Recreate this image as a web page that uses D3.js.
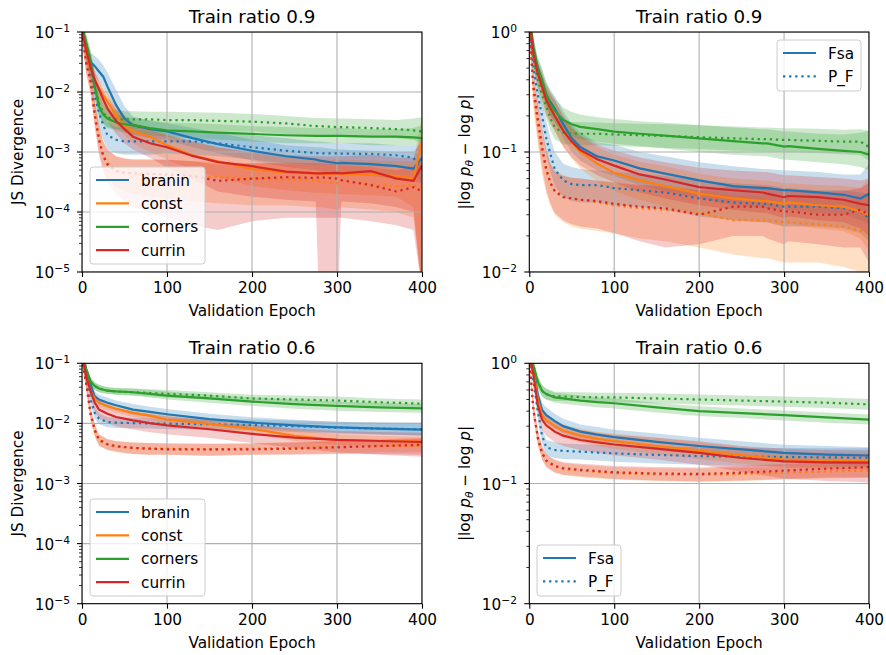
<!DOCTYPE html>
<html>
<head>
<meta charset="utf-8">
<script src="https://cdn.jsdelivr.net/npm/d3@7"></script>
<style>
  body { margin: 0; background: #fff; }
  svg { display: block; font-family: "DejaVu Sans", sans-serif; }
</style>
</head>
<body>
<svg id="chart" width="886" height="655"></svg>
<script>
const epochsTop = [0, 5, 10, 15, 20, 25, 30, 40, 50, 60, 80, 100, 130, 160, 200, 240, 275, 280, 300, 305, 340, 370, 390, 400];
const epochsBottom = [0, 5, 10, 15, 20, 30, 40, 60, 80, 100, 150, 200, 250, 300, 350, 400];

const datasets = ["branin", "const", "corners", "currin"];
const methods = ["Fsa", "P_F"];
const xTicks = [0, 100, 200, 300, 400];

// ---- JS divergence, train ratio 0.9 (rows: branin, const, corners, currin)
const js09Fsa = [
  [0.12, 0.05, 0.032, 0.027, 0.022, 0.018, 0.0123, 0.0061, 0.0036, 0.0028, 0.0024, 0.0022, 0.0017, 0.00135, 0.00105, 0.00085, 0.00075, 0.00072, 0.00065, 0.00066, 0.00063, 0.00058, 0.00053, 0.0008],
  [0.12, 0.045, 0.025, 0.016, 0.0115, 0.0088, 0.0069, 0.0041, 0.0028, 0.0022, 0.0018, 0.0013, 0.00088, 0.0007, 0.00052, 0.00045, 0.00044, 0.00043, 0.00044, 0.00043, 0.00042, 0.0004, 0.00036, 0.0015],
  [0.13, 0.065, 0.034, 0.0123, 0.0058, 0.0042, 0.0036, 0.0031, 0.0029, 0.0028, 0.0025, 0.0023, 0.0022, 0.0021, 0.002, 0.0019, 0.00185, 0.00185, 0.00185, 0.00185, 0.0018, 0.0018, 0.00175, 0.0017],
  [0.11, 0.05, 0.026, 0.016, 0.011, 0.0075, 0.0053, 0.0033, 0.0024, 0.0018, 0.0014, 0.0012, 0.00086, 0.00068, 0.00058, 0.00047, 0.00044, 0.00044, 0.00045, 0.00044, 0.00048, 0.00036, 0.00033, 0.0006]
];
const js09FsaLo = [
  [0.09, 0.035, 0.023, 0.018, 0.015, 0.012, 0.0085, 0.0039, 0.0024, 0.0019, 0.0017, 0.0016, 0.0012, 0.00095, 0.00072, 0.00056, 0.0005, 0.00048, 0.00042, 0.00043, 0.0004, 0.00036, 0.00032, 0.0003],
  [0.09, 0.032, 0.017, 0.011, 0.008, 0.006, 0.0047, 0.0028, 0.0019, 0.0014, 0.001, 0.00075, 0.0005, 0.00038, 0.00027, 0.00023, 0.00021, 0.00021, 0.0002, 0.0002, 0.00019, 0.00018, 0.00012, 0.000005],
  [0.1, 0.045, 0.022, 0.008, 0.0039, 0.0029, 0.0025, 0.0023, 0.0021, 0.002, 0.0019, 0.0018, 0.0017, 0.0016, 0.0015, 0.0014, 0.0014, 0.0014, 0.0014, 0.0014, 0.0013, 0.0013, 0.0013, 0.0012],
  [0.08, 0.035, 0.017, 0.01, 0.007, 0.0048, 0.0033, 0.002, 0.0014, 0.0011, 0.0008, 0.00055, 0.00035, 0.00022, 0.00018, 0.00016, 0.00015, 0.000001, 0.000001, 0.00015, 0.00014, 0.00012, 0.0001, 0.000005]
];
const js09FsaHi = [
  [0.15, 0.07, 0.045, 0.04, 0.034, 0.028, 0.021, 0.011, 0.0058, 0.0039, 0.0033, 0.003, 0.0025, 0.0021, 0.0016, 0.0013, 0.0012, 0.0012, 0.0011, 0.0011, 0.00105, 0.001, 0.001, 0.0015],
  [0.15, 0.06, 0.035, 0.022, 0.016, 0.012, 0.0095, 0.006, 0.0042, 0.0032, 0.0025, 0.002, 0.0015, 0.0012, 0.00095, 0.0008, 0.00078, 0.00076, 0.00075, 0.00074, 0.00072, 0.0007, 0.0007, 0.004],
  [0.16, 0.09, 0.05, 0.02, 0.0085, 0.006, 0.005, 0.0042, 0.0039, 0.0037, 0.0034, 0.0031, 0.003, 0.0029, 0.0027, 0.0026, 0.0025, 0.0025, 0.0025, 0.0025, 0.0024, 0.0024, 0.0025, 0.0028],
  [0.14, 0.065, 0.035, 0.022, 0.015, 0.011, 0.0082, 0.0052, 0.0037, 0.0029, 0.0023, 0.0019, 0.0015, 0.0012, 0.001, 0.0009, 0.00085, 0.00085, 0.00085, 0.00085, 0.0009, 0.0008, 0.0008, 0.002]
];
const js09PF = [
  [0.1, 0.04, 0.02, 0.0085, 0.0045, 0.0028, 0.0019, 0.0016, 0.0015, 0.0015, 0.0015, 0.0015, 0.0015, 0.0014, 0.0012, 0.00105, 0.00096, 0.00095, 0.00095, 0.00094, 0.00093, 0.00088, 0.0008, 0.0005],
  [0.1, 0.03, 0.016, 0.0045, 0.0017, 0.0009, 0.00065, 0.0005, 0.00046, 0.00044, 0.00043, 0.00043, 0.0004, 0.00038, 0.00036, 0.00035, 0.00034, 0.00032, 0.0003, 0.00033, 0.00029, 0.00027, 0.00028, 0.00025],
  [0.13, 0.065, 0.034, 0.013, 0.0065, 0.0045, 0.0038, 0.0035, 0.0035, 0.0035, 0.0035, 0.0034, 0.0034, 0.0033, 0.0032, 0.003, 0.0027, 0.0027, 0.0026, 0.0026, 0.0025, 0.0024, 0.0023, 0.0022],
  [0.1, 0.03, 0.015, 0.0042, 0.0016, 0.00085, 0.00062, 0.00048, 0.00045, 0.00044, 0.00043, 0.00042, 0.0004, 0.00033, 0.00036, 0.00038, 0.00037, 0.00038, 0.00036, 0.00034, 0.00028, 0.00022, 0.00026, 0.00022]
];
const js09PFLo = [
  [0.08, 0.028, 0.013, 0.005, 0.0026, 0.0016, 0.0011, 0.00095, 0.0009, 0.0009, 0.0009, 0.00095, 0.0009, 0.00085, 0.00075, 0.00065, 0.0006, 0.0006, 0.0006, 0.0006, 0.00055, 0.00055, 0.0005, 0.0003],
  [0.07, 0.02, 0.01, 0.0028, 0.001, 0.00052, 0.00035, 0.00026, 0.00022, 0.0002, 0.00018, 0.00017, 0.00015, 0.00014, 0.00013, 0.00013, 0.00012, 0.00012, 0.00011, 0.00012, 0.00011, 0.0001, 0.00008, 0.000005],
  [0.1, 0.045, 0.022, 0.008, 0.0042, 0.003, 0.0026, 0.0024, 0.0024, 0.0024, 0.0024, 0.0024, 0.0023, 0.0022, 0.0022, 0.002, 0.0019, 0.0019, 0.0018, 0.0018, 0.0018, 0.0017, 0.0016, 0.0014],
  [0.07, 0.02, 0.0095, 0.0026, 0.0009, 0.00045, 0.0003, 0.0002, 0.00015, 0.00012, 0.0001, 0.00008, 0.00006, 0.00005, 0.00007, 0.00008, 0.00008, 0.00008, 0.00008, 0.00008, 0.00007, 0.00006, 0.00005, 0.000005]
];
const js09PFHi = [
  [0.12, 0.055, 0.03, 0.014, 0.0078, 0.0048, 0.0032, 0.0026, 0.0024, 0.0023, 0.0023, 0.0023, 0.0022, 0.0021, 0.0019, 0.0017, 0.0015, 0.0015, 0.0014, 0.0014, 0.0014, 0.0013, 0.0013, 0.0012],
  [0.13, 0.045, 0.024, 0.007, 0.0028, 0.0015, 0.0011, 0.00085, 0.00078, 0.00075, 0.00075, 0.00074, 0.0007, 0.00068, 0.00065, 0.00063, 0.0006, 0.0006, 0.00058, 0.0006, 0.00058, 0.00055, 0.0006, 0.0008],
  [0.16, 0.09, 0.05, 0.02, 0.0095, 0.0066, 0.0056, 0.005, 0.0048, 0.0048, 0.0047, 0.0047, 0.0046, 0.0045, 0.0043, 0.004, 0.0037, 0.0037, 0.0036, 0.0036, 0.0035, 0.0034, 0.0036, 0.0038],
  [0.13, 0.045, 0.024, 0.007, 0.0028, 0.0015, 0.0011, 0.00085, 0.00078, 0.00075, 0.00075, 0.00074, 0.0007, 0.00062, 0.00065, 0.00066, 0.00065, 0.00065, 0.00062, 0.0006, 0.00055, 0.0005, 0.00055, 0.0007]
];

// ---- |log p_theta - log p|, train ratio 0.9
const lp09Fsa = [
  [1.3, 0.7, 0.5, 0.39, 0.3, 0.26, 0.23, 0.17, 0.13, 0.11, 0.092, 0.085, 0.073, 0.066, 0.058, 0.052, 0.05, 0.05, 0.048, 0.048, 0.046, 0.044, 0.041, 0.045],
  [1.3, 0.65, 0.45, 0.35, 0.28, 0.24, 0.2, 0.15, 0.12, 0.1, 0.08, 0.067, 0.058, 0.052, 0.045, 0.041, 0.039, 0.039, 0.037, 0.038, 0.036, 0.035, 0.032, 0.03],
  [1.4, 0.75, 0.5, 0.4, 0.3, 0.25, 0.22, 0.185, 0.17, 0.162, 0.155, 0.148, 0.142, 0.137, 0.13, 0.123, 0.118, 0.118, 0.111, 0.112, 0.106, 0.102, 0.1, 0.095],
  [1.3, 0.65, 0.45, 0.35, 0.27, 0.23, 0.2, 0.15, 0.122, 0.104, 0.087, 0.077, 0.065, 0.059, 0.051, 0.048, 0.046, 0.045, 0.042, 0.043, 0.042, 0.04, 0.037, 0.036]
];
const lp09FsaLo = [
  [1.1, 0.58, 0.42, 0.32, 0.24, 0.2, 0.18, 0.13, 0.1, 0.085, 0.07, 0.063, 0.053, 0.047, 0.041, 0.036, 0.034, 0.034, 0.033, 0.033, 0.031, 0.03, 0.027, 0.025],
  [1.1, 0.52, 0.36, 0.27, 0.21, 0.18, 0.15, 0.11, 0.088, 0.073, 0.057, 0.047, 0.04, 0.035, 0.03, 0.027, 0.026, 0.026, 0.024, 0.025, 0.023, 0.022, 0.019, 0.015],
  [1.2, 0.62, 0.4, 0.32, 0.24, 0.2, 0.175, 0.148, 0.135, 0.128, 0.122, 0.117, 0.112, 0.107, 0.1, 0.095, 0.092, 0.092, 0.086, 0.086, 0.082, 0.079, 0.075, 0.07],
  [1.1, 0.52, 0.36, 0.27, 0.2, 0.17, 0.15, 0.11, 0.09, 0.077, 0.064, 0.056, 0.046, 0.041, 0.036, 0.033, 0.031, 0.031, 0.028, 0.029, 0.027, 0.026, 0.023, 0.02]
];
const lp09FsaHi = [
  [1.5, 0.85, 0.6, 0.48, 0.38, 0.33, 0.29, 0.22, 0.17, 0.145, 0.12, 0.115, 0.1, 0.092, 0.082, 0.076, 0.072, 0.072, 0.07, 0.07, 0.068, 0.065, 0.065, 0.08],
  [1.5, 0.8, 0.56, 0.45, 0.36, 0.31, 0.27, 0.2, 0.16, 0.135, 0.11, 0.095, 0.083, 0.076, 0.066, 0.06, 0.058, 0.058, 0.055, 0.055, 0.053, 0.052, 0.05, 0.06],
  [1.6, 0.9, 0.62, 0.5, 0.38, 0.32, 0.28, 0.235, 0.215, 0.205, 0.195, 0.188, 0.18, 0.175, 0.168, 0.16, 0.155, 0.155, 0.148, 0.148, 0.142, 0.14, 0.145, 0.15],
  [1.5, 0.8, 0.56, 0.45, 0.35, 0.3, 0.27, 0.2, 0.16, 0.138, 0.115, 0.103, 0.09, 0.082, 0.074, 0.07, 0.068, 0.068, 0.064, 0.064, 0.062, 0.06, 0.058, 0.06]
];
const lp09PF = [
  [1.2, 0.5, 0.3, 0.2, 0.13, 0.095, 0.072, 0.058, 0.054, 0.053, 0.053, 0.05, 0.048, 0.046, 0.041, 0.038, 0.037, 0.037, 0.035, 0.035, 0.035, 0.034, 0.032, 0.028],
  [1.1, 0.3, 0.17, 0.1, 0.07, 0.055, 0.048, 0.043, 0.041, 0.04, 0.038, 0.036, 0.034, 0.033, 0.031, 0.027, 0.027, 0.027, 0.026, 0.026, 0.025, 0.024, 0.022, 0.021],
  [1.3, 0.6, 0.4, 0.3, 0.24, 0.19, 0.16, 0.145, 0.143, 0.142, 0.142, 0.14, 0.138, 0.136, 0.133, 0.13, 0.128, 0.128, 0.126, 0.126, 0.124, 0.122, 0.122, 0.11],
  [1.1, 0.35, 0.19, 0.11, 0.072, 0.055, 0.047, 0.042, 0.041, 0.04, 0.039, 0.037, 0.035, 0.034, 0.03, 0.035, 0.035, 0.034, 0.032, 0.032, 0.03, 0.03, 0.033, 0.03]
];
const lp09PFLo = [
  [1.0, 0.4, 0.23, 0.15, 0.095, 0.068, 0.052, 0.042, 0.039, 0.038, 0.038, 0.036, 0.035, 0.033, 0.029, 0.027, 0.026, 0.026, 0.024, 0.024, 0.024, 0.023, 0.021, 0.018],
  [0.9, 0.22, 0.12, 0.065, 0.045, 0.035, 0.03, 0.026, 0.024, 0.023, 0.022, 0.021, 0.019, 0.018, 0.016, 0.014, 0.013, 0.013, 0.012, 0.012, 0.012, 0.011, 0.01, 0.008],
  [1.1, 0.5, 0.32, 0.24, 0.19, 0.15, 0.128, 0.116, 0.115, 0.114, 0.114, 0.112, 0.11, 0.108, 0.106, 0.103, 0.101, 0.101, 0.1, 0.1, 0.098, 0.096, 0.094, 0.085],
  [0.9, 0.26, 0.13, 0.075, 0.048, 0.037, 0.031, 0.027, 0.025, 0.024, 0.023, 0.021, 0.018, 0.016, 0.017, 0.02, 0.02, 0.019, 0.017, 0.018, 0.017, 0.016, 0.016, 0.012]
];
const lp09PFHi = [
  [1.4, 0.6, 0.38, 0.26, 0.18, 0.13, 0.1, 0.08, 0.075, 0.072, 0.07, 0.068, 0.066, 0.063, 0.058, 0.055, 0.053, 0.053, 0.05, 0.05, 0.048, 0.048, 0.046, 0.045],
  [1.3, 0.4, 0.24, 0.15, 0.1, 0.08, 0.07, 0.064, 0.061, 0.06, 0.057, 0.055, 0.052, 0.05, 0.048, 0.044, 0.043, 0.043, 0.042, 0.042, 0.041, 0.04, 0.04, 0.045],
  [1.5, 0.72, 0.5, 0.38, 0.3, 0.24, 0.2, 0.18, 0.178, 0.177, 0.176, 0.174, 0.172, 0.17, 0.167, 0.163, 0.16, 0.16, 0.158, 0.158, 0.156, 0.153, 0.155, 0.15],
  [1.3, 0.45, 0.26, 0.16, 0.105, 0.08, 0.069, 0.063, 0.061, 0.06, 0.058, 0.056, 0.053, 0.052, 0.048, 0.052, 0.052, 0.051, 0.049, 0.049, 0.047, 0.047, 0.05, 0.055]
];

// ---- JS divergence, train ratio 0.6
const js06Fsa = [
  [0.15, 0.07, 0.045, 0.028, 0.025, 0.022, 0.02, 0.017, 0.0155, 0.0142, 0.0118, 0.0103, 0.0093, 0.0086, 0.0082, 0.0079],
  [0.15, 0.06, 0.035, 0.026, 0.022, 0.0195, 0.0175, 0.015, 0.0135, 0.0115, 0.0098, 0.0081, 0.0062, 0.0053, 0.0051, 0.005],
  [0.15, 0.08, 0.05, 0.042, 0.038, 0.035, 0.034, 0.033, 0.031, 0.029, 0.026, 0.023, 0.021, 0.0195, 0.0185, 0.0178],
  [0.14, 0.06, 0.035, 0.022, 0.017, 0.0145, 0.0128, 0.0112, 0.0101, 0.0093, 0.008, 0.0067, 0.0058, 0.0053, 0.0051, 0.0049]
];
const js06FsaLo = [
  [0.13, 0.058, 0.037, 0.023, 0.021, 0.018, 0.0165, 0.014, 0.0127, 0.0117, 0.0097, 0.0085, 0.0076, 0.007, 0.0066, 0.0063],
  [0.13, 0.05, 0.029, 0.022, 0.0185, 0.0165, 0.015, 0.0128, 0.0115, 0.0097, 0.0082, 0.0068, 0.0051, 0.0044, 0.0041, 0.004],
  [0.13, 0.07, 0.043, 0.036, 0.033, 0.031, 0.03, 0.029, 0.027, 0.025, 0.022, 0.0195, 0.0175, 0.0163, 0.0155, 0.015],
  [0.12, 0.047, 0.027, 0.016, 0.012, 0.0102, 0.009, 0.0079, 0.0071, 0.0066, 0.0057, 0.0047, 0.0039, 0.0033, 0.003, 0.0028]
];
const js06FsaHi = [
  [0.17, 0.085, 0.055, 0.034, 0.03, 0.027, 0.024, 0.021, 0.019, 0.0173, 0.0145, 0.0127, 0.0115, 0.0107, 0.0103, 0.01],
  [0.17, 0.07, 0.042, 0.031, 0.026, 0.023, 0.0205, 0.0175, 0.0158, 0.0142, 0.0118, 0.0097, 0.0078, 0.0066, 0.0062, 0.006],
  [0.17, 0.09, 0.058, 0.048, 0.044, 0.04, 0.039, 0.038, 0.036, 0.034, 0.03, 0.027, 0.025, 0.023, 0.022, 0.021],
  [0.16, 0.075, 0.045, 0.03, 0.024, 0.02, 0.018, 0.0157, 0.0142, 0.0131, 0.0113, 0.0094, 0.0082, 0.0075, 0.0072, 0.007]
];
const js06PF = [
  [0.12, 0.05, 0.025, 0.015, 0.012, 0.0105, 0.0103, 0.0101, 0.01, 0.0099, 0.0097, 0.0094, 0.009, 0.0085, 0.0082, 0.008],
  [0.12, 0.045, 0.014, 0.0075, 0.0052, 0.0044, 0.0041, 0.0039, 0.0038, 0.0038, 0.0037, 0.0038, 0.0039, 0.0041, 0.0042, 0.0043],
  [0.15, 0.08, 0.05, 0.042, 0.038, 0.035, 0.034, 0.033, 0.032, 0.031, 0.029, 0.026, 0.025, 0.024, 0.0225, 0.0213],
  [0.12, 0.045, 0.015, 0.0078, 0.0054, 0.0045, 0.0042, 0.0039, 0.0038, 0.0037, 0.0037, 0.0037, 0.0038, 0.004, 0.0042, 0.0044]
];
const js06PFLo = [
  [0.1, 0.04, 0.02, 0.012, 0.0097, 0.0086, 0.0084, 0.0083, 0.0082, 0.0081, 0.0079, 0.0076, 0.0072, 0.0068, 0.0065, 0.0063],
  [0.1, 0.036, 0.011, 0.006, 0.0042, 0.0036, 0.0033, 0.0031, 0.003, 0.003, 0.0029, 0.003, 0.0031, 0.0032, 0.0033, 0.0033],
  [0.13, 0.07, 0.043, 0.036, 0.033, 0.031, 0.03, 0.029, 0.028, 0.027, 0.025, 0.023, 0.022, 0.021, 0.0195, 0.0185],
  [0.1, 0.036, 0.012, 0.0062, 0.0043, 0.0036, 0.0034, 0.0031, 0.003, 0.003, 0.0029, 0.003, 0.003, 0.0031, 0.0031, 0.003]
];
const js06PFHi = [
  [0.14, 0.06, 0.032, 0.019, 0.0148, 0.0128, 0.0125, 0.0123, 0.0122, 0.0121, 0.0119, 0.0116, 0.0112, 0.0107, 0.0104, 0.0103],
  [0.14, 0.055, 0.018, 0.0093, 0.0064, 0.0054, 0.005, 0.0048, 0.0047, 0.0047, 0.0046, 0.0047, 0.0049, 0.0051, 0.0053, 0.0055],
  [0.17, 0.09, 0.058, 0.048, 0.044, 0.04, 0.039, 0.038, 0.037, 0.036, 0.033, 0.03, 0.029, 0.028, 0.026, 0.025],
  [0.14, 0.055, 0.019, 0.0096, 0.0066, 0.0055, 0.0051, 0.0048, 0.0047, 0.0046, 0.0046, 0.0046, 0.0048, 0.0051, 0.0054, 0.0057]
];

// ---- |log p_theta - log p|, train ratio 0.6
const lp06Fsa = [
  [1.3, 0.9, 0.55, 0.41, 0.37, 0.33, 0.3, 0.27, 0.255, 0.243, 0.222, 0.205, 0.192, 0.18, 0.174, 0.171],
  [1.3, 0.85, 0.5, 0.37, 0.335, 0.3, 0.275, 0.25, 0.235, 0.225, 0.205, 0.188, 0.172, 0.158, 0.155, 0.153],
  [1.3, 0.95, 0.7, 0.59, 0.555, 0.52, 0.51, 0.49, 0.475, 0.465, 0.43, 0.4, 0.385, 0.37, 0.355, 0.34],
  [1.2, 0.8, 0.45, 0.34, 0.305, 0.27, 0.25, 0.23, 0.22, 0.211, 0.195, 0.18, 0.163, 0.153, 0.15, 0.149]
];
const lp06FsaLo = [
  [1.2, 0.8, 0.48, 0.35, 0.32, 0.285, 0.26, 0.235, 0.22, 0.21, 0.19, 0.175, 0.163, 0.152, 0.145, 0.142],
  [1.2, 0.75, 0.43, 0.32, 0.295, 0.26, 0.24, 0.22, 0.205, 0.195, 0.175, 0.16, 0.146, 0.135, 0.132, 0.13],
  [1.2, 0.85, 0.63, 0.53, 0.5, 0.47, 0.46, 0.445, 0.43, 0.42, 0.39, 0.365, 0.35, 0.335, 0.32, 0.31],
  [1.05, 0.7, 0.39, 0.28, 0.25, 0.22, 0.205, 0.19, 0.18, 0.172, 0.158, 0.143, 0.125, 0.11, 0.105, 0.102]
];
const lp06FsaHi = [
  [1.4, 1.0, 0.63, 0.47, 0.43, 0.38, 0.345, 0.31, 0.295, 0.28, 0.26, 0.24, 0.225, 0.21, 0.205, 0.2],
  [1.4, 0.95, 0.57, 0.42, 0.38, 0.34, 0.31, 0.285, 0.27, 0.26, 0.24, 0.22, 0.2, 0.185, 0.18, 0.178],
  [1.4, 1.05, 0.78, 0.66, 0.615, 0.57, 0.56, 0.54, 0.52, 0.51, 0.47, 0.44, 0.42, 0.405, 0.39, 0.375],
  [1.35, 0.9, 0.53, 0.41, 0.365, 0.33, 0.3, 0.28, 0.265, 0.255, 0.24, 0.225, 0.205, 0.195, 0.19, 0.188]
];
const lp06PF = [
  [1.2, 0.7, 0.4, 0.25, 0.2, 0.19, 0.187, 0.184, 0.181, 0.178, 0.173, 0.169, 0.167, 0.166, 0.165, 0.164],
  [1.1, 0.4, 0.24, 0.18, 0.155, 0.138, 0.132, 0.128, 0.125, 0.122, 0.119, 0.118, 0.12, 0.123, 0.126, 0.128],
  [1.3, 0.95, 0.7, 0.59, 0.555, 0.53, 0.53, 0.525, 0.52, 0.52, 0.51, 0.5, 0.49, 0.48, 0.47, 0.455],
  [1.1, 0.4, 0.24, 0.18, 0.155, 0.14, 0.134, 0.13, 0.127, 0.124, 0.121, 0.12, 0.123, 0.128, 0.133, 0.137]
];
const lp06PFLo = [
  [1.1, 0.6, 0.35, 0.215, 0.172, 0.163, 0.16, 0.158, 0.155, 0.152, 0.147, 0.143, 0.14, 0.139, 0.138, 0.137],
  [1.0, 0.35, 0.21, 0.158, 0.137, 0.122, 0.117, 0.113, 0.11, 0.108, 0.105, 0.103, 0.105, 0.108, 0.11, 0.112],
  [1.2, 0.85, 0.63, 0.53, 0.5, 0.485, 0.485, 0.48, 0.475, 0.475, 0.465, 0.455, 0.445, 0.435, 0.425, 0.41],
  [1.0, 0.35, 0.21, 0.158, 0.137, 0.124, 0.118, 0.115, 0.112, 0.109, 0.106, 0.104, 0.106, 0.109, 0.112, 0.112]
];
const lp06PFHi = [
  [1.3, 0.8, 0.46, 0.29, 0.23, 0.22, 0.215, 0.212, 0.21, 0.207, 0.203, 0.2, 0.198, 0.197, 0.196, 0.196],
  [1.2, 0.46, 0.28, 0.205, 0.175, 0.155, 0.148, 0.143, 0.14, 0.137, 0.134, 0.133, 0.135, 0.138, 0.142, 0.145],
  [1.4, 1.05, 0.78, 0.66, 0.615, 0.58, 0.58, 0.575, 0.57, 0.57, 0.56, 0.55, 0.54, 0.53, 0.52, 0.505],
  [1.2, 0.46, 0.28, 0.205, 0.175, 0.158, 0.15, 0.146, 0.143, 0.14, 0.137, 0.136, 0.14, 0.145, 0.152, 0.157]
];

const colors = ["#1f77b4", "#ff7f0e", "#2ca02c", "#d62728"];
const svg = d3.select("#chart");
const FS = 15.3;

const panels = [
  { left: 82, right: 422, top: 32, bottom: 272, dom: [1e-5, 1e-1], title: "Train ratio 0.9", ylab: "js",
    epochs: epochsTop, fsa: [js09Fsa, js09FsaLo, js09FsaHi], pf: [js09PF, js09PFLo, js09PFHi],
    tickRight: 70, ylabX: 23, legend: { kind: "data", x: 90, y: 167, w: 115, h: 97 } },
  { left: 529.3, right: 869, top: 32, bottom: 272, dom: [1e-2, 1], title: "Train ratio 0.9", ylab: "lp",
    epochs: epochsTop, fsa: [lp09Fsa, lp09FsaLo, lp09FsaHi], pf: [lp09PF, lp09PFLo, lp09PFHi],
    tickRight: 517, ylabX: 470, legend: { kind: "method", x: 777, y: 40, w: 84, h: 51 } },
  { left: 82, right: 422, top: 363.3, bottom: 603.7, dom: [1e-5, 1e-1], title: "Train ratio 0.6", ylab: "js",
    epochs: epochsBottom, fsa: [js06Fsa, js06FsaLo, js06FsaHi], pf: [js06PF, js06PFLo, js06PFHi],
    tickRight: 70, ylabX: 23, legend: { kind: "data", x: 90, y: 499, w: 115, h: 97 } },
  { left: 529.3, right: 869, top: 363.3, bottom: 603.7, dom: [1e-2, 1], title: "Train ratio 0.6", ylab: "lp",
    epochs: epochsBottom, fsa: [lp06Fsa, lp06FsaLo, lp06FsaHi], pf: [lp06PF, lp06PFLo, lp06PFHi],
    tickRight: 517, ylabX: 470, legend: { kind: "method", x: 537, y: 545, w: 84, h: 51 } }
];

panels.forEach(drawPanel);

function drawPanel(p, i) {
  const x = d3.scaleLinear().domain([0, 400]).range([p.left, p.right]);
  const y = d3.scaleLog().domain(p.dom).range([p.bottom, p.top]);
  const g = svg.append("g");

  const clipId = "clip" + i;
  g.append("clipPath").attr("id", clipId)
    .append("rect")
    .attr("x", p.left).attr("y", p.top)
    .attr("width", p.right - p.left).attr("height", p.bottom - p.top);

  const plot = g.append("g").attr("clip-path", "url(#" + clipId + ")");

  // shaded bands
  datasets.forEach((name, k) => {
    [p.fsa, p.pf].forEach(set => {
      const rows = p.epochs.map((e, j) => ({ e: e, lo: set[1][k][j], hi: set[2][k][j] }));
      plot.append("path")
        .datum(rows)
        .attr("fill", colors[k])
        .attr("fill-opacity", 0.24)
        .attr("d", d3.area().x(d => x(d.e)).y0(d => y(d.lo)).y1(d => y(d.hi)));
    });
  });

  // grid
  const lo = Math.round(Math.log10(p.dom[0])), hi = Math.round(Math.log10(p.dom[1]));
  const decades = d3.range(lo, hi + 1);
  plot.selectAll(".gx").data(xTicks).enter().append("line")
    .attr("x1", d => x(d)).attr("x2", d => x(d))
    .attr("y1", p.top).attr("y2", p.bottom)
    .attr("stroke", "#b0b0b0").attr("stroke-width", 1.1);
  plot.selectAll(".gy").data(decades).enter().append("line")
    .attr("x1", p.left).attr("x2", p.right)
    .attr("y1", d => y(Math.pow(10, d))).attr("y2", d => y(Math.pow(10, d)))
    .attr("stroke", "#b0b0b0").attr("stroke-width", 1.1);

  // lines
  datasets.forEach((name, k) => {
    [p.fsa, p.pf].forEach((set, m) => {
      const rows = p.epochs.map((e, j) => ({ e: e, v: set[0][k][j] }));
      plot.append("path")
        .datum(rows)
        .attr("fill", "none")
        .attr("stroke", colors[k])
        .attr("stroke-width", 2.2)
        .attr("stroke-dasharray", m === 1 ? "2.3,3.8" : null)
        .attr("d", d3.line().x(d => x(d.e)).y(d => y(d.v)));
    });
  });

  // x axis
  const xa = g.append("g")
    .attr("transform", "translate(0," + p.bottom + ")")
    .call(d3.axisBottom(x).tickValues(xTicks).tickSize(5).tickPadding(5));
  xa.select(".domain").remove();
  xa.selectAll("line").attr("stroke", "#000").attr("stroke-width", 1.1);
  xa.selectAll("text").attr("font-size", FS).attr("font-family", "DejaVu Sans").attr("fill", "#000");

  // y axis: minor + major ticks, 10^n labels
  const minors = [];
  decades.slice(0, -1).forEach(d => { for (let m = 2; m <= 9; m++) minors.push(m * Math.pow(10, d)); });
  g.selectAll(".ym").data(minors).enter().append("line")
    .attr("x1", p.left - 3).attr("x2", p.left)
    .attr("y1", d => y(d)).attr("y2", d => y(d))
    .attr("stroke", "#000").attr("stroke-width", 0.8);
  g.selectAll(".yM").data(decades).enter().append("line")
    .attr("x1", p.left - 5).attr("x2", p.left)
    .attr("y1", d => y(Math.pow(10, d))).attr("y2", d => y(Math.pow(10, d)))
    .attr("stroke", "#000").attr("stroke-width", 1.1);
  decades.forEach(d => {
    const t = g.append("text")
      .attr("x", p.tickRight)
      .attr("y", y(Math.pow(10, d)) + 6)
      .attr("text-anchor", "end")
      .attr("font-size", FS);
    t.append("tspan").text("10");
    t.append("tspan").attr("dy", -6).attr("font-size", 10.7).text(d < 0 ? "\u2212" + (-d) : String(d));
  });

  // frame
  g.append("rect")
    .attr("x", p.left).attr("y", p.top)
    .attr("width", p.right - p.left).attr("height", p.bottom - p.top)
    .attr("fill", "none").attr("stroke", "#000").attr("stroke-width", 1.1);

  // title + axis labels
  const cx = (p.left + p.right) / 2, cy = (p.top + p.bottom) / 2;
  g.append("text").attr("x", cx).attr("y", p.top - 9.5)
    .attr("text-anchor", "middle").attr("font-size", 18.3).text(p.title);
  g.append("text").attr("x", cx).attr("y", p.bottom + 44)
    .attr("text-anchor", "middle").attr("font-size", FS).text("Validation Epoch");

  const yl = g.append("text")
    .attr("transform", "translate(" + p.ylabX + "," + cy + ") rotate(-90)")
    .attr("text-anchor", "middle").attr("font-size", FS);
  if (p.ylab === "js") {
    yl.text("JS Divergence");
  } else {
    yl.append("tspan").text("|log ");
    yl.append("tspan").attr("font-style", "italic").text("p");
    yl.append("tspan").attr("font-style", "italic").attr("font-size", 10.7).attr("dy", 3).text("\u03b8");
    yl.append("tspan").attr("dy", -3).text(" \u2212 log ");
    yl.append("tspan").attr("font-style", "italic").text("p");
    yl.append("tspan").text("|");
  }

  drawLegend(g, p.legend);
}

function drawLegend(g, L) {
  const lg = g.append("g");
  lg.append("rect")
    .attr("x", L.x).attr("y", L.y).attr("width", L.w).attr("height", L.h)
    .attr("rx", 3).attr("fill", "#fff").attr("fill-opacity", 0.8)
    .attr("stroke", "#cccccc").attr("stroke-width", 1);
  const items = L.kind === "data"
    ? datasets.map((d, k) => ({ label: d, color: colors[k], dash: null }))
    : methods.map((d, m) => ({ label: d, color: colors[0], dash: m === 1 ? "2.3,3.8" : null }));
  items.forEach((it, k) => {
    const ry = L.y + 13 + k * 23.4;
    lg.append("line")
      .attr("x1", L.x + 6).attr("x2", L.x + 39)
      .attr("y1", ry).attr("y2", ry)
      .attr("stroke", it.color).attr("stroke-width", 2.2)
      .attr("stroke-dasharray", it.dash);
    lg.append("text")
      .attr("x", L.x + 51).attr("y", ry + 5.5)
      .attr("font-size", FS).text(it.label);
  });
}
</script>
</body>
</html>
